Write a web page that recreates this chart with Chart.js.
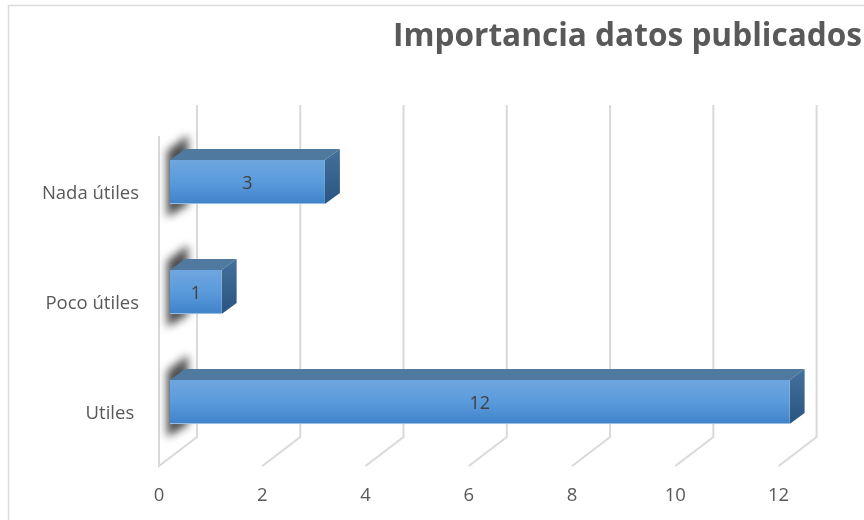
<!DOCTYPE html>
<html>
<head>
<meta charset="utf-8">
<style>html,body{margin:0;padding:0;background:#fff}canvas{display:block}</style>
<script src="https://cdn.jsdelivr.net/npm/chart.js@4"></script>
</head>
<body>
<div style="width:864px;height:520px"><canvas id="c" width="864" height="520"></canvas></div>
<script>
const categories = ['Nada útiles', 'Poco útiles', 'Utiles '];
const values = [3, 1, 12];
const chartTitle = 'Importancia datos publicados';

const barDX = 11, barDY = -9, depthX = 15, depthY = 11, wallX = 38, wallY = 29, wallTop = 105;
const barH = 44;

const threeD = {
  id: 'threeD',
  beforeDraw(chart) {
    const c = chart.ctx;
    c.save();
    c.strokeStyle = '#dcdcdc'; c.lineWidth = 1.5;
    c.beginPath(); c.moveTo(8.5, 520); c.lineTo(8.5, 5.5); c.lineTo(864, 5.5); c.stroke();
    c.restore();
  },
  beforeDatasetsDraw(chart) {
    const c = chart.ctx, xs = chart.scales.x, area = chart.chartArea;
    c.save();
    // walls
    c.strokeStyle = '#d9d9d9'; c.lineWidth = 2;
    xs.ticks.forEach((t, i) => {
      const x = xs.getPixelForTick(i);
      c.beginPath();
      c.moveTo(x + wallX, wallTop);
      c.lineTo(x + wallX, area.bottom - wallY);
      c.lineTo(x, area.bottom);
      if (i === 0) c.lineTo(x, area.top);
      c.stroke();
    });
    // shadows on left wall
    const meta = chart.getDatasetMeta(0);
    meta.data.forEach(b => {
      const { y, base } = b.getProps(['y', 'base'], true);
      const t = y + barDY - barH / 2, bt = y + barDY + barH / 2, l = base + barDX;
      c.save();
      c.filter = 'blur(4px)';
      c.fillStyle = '#4d4d4d';
      c.beginPath();
      c.moveTo(l - 3, t - 9); c.lineTo(l + 18, t - 25); c.lineTo(l + 18, bt + 1); c.lineTo(l - 3, bt + 13);
      c.closePath(); c.fill();
      c.restore();
    });
    // top and side faces
    meta.data.forEach(b => {
      const { x, y, base } = b.getProps(['x', 'y', 'base'], true);
      const t = y + barDY - barH / 2, bt = y + barDY + barH / 2, l = base + barDX, r = x + barDX;
      c.fillStyle = '#50799f';
      c.beginPath();
      c.moveTo(l, t); c.lineTo(l + depthX, t - depthY); c.lineTo(r + depthX, t - depthY); c.lineTo(r, t);
      c.closePath(); c.fill();
      const g = c.createLinearGradient(0, t - depthY, 0, bt);
      g.addColorStop(0, '#44709c'); g.addColorStop(1, '#295580');
      c.fillStyle = g;
      c.beginPath();
      c.moveTo(r, t); c.lineTo(r + depthX, t - depthY); c.lineTo(r + depthX, bt - depthY); c.lineTo(r, bt);
      c.closePath(); c.fill();
    });
    c.restore();
    c.save();
    c.translate(barDX, barDY);
  },
  afterDatasetsDraw(chart) {
    const c = chart.ctx;
    c.restore();
    c.save();
    c.fillStyle = '#404040';
    c.font = '18px "Open Sans"';
    c.textAlign = 'center'; c.textBaseline = 'middle';
    chart.getDatasetMeta(0).data.forEach((b, i) => {
      const { x, y, base } = b.getProps(['x', 'y', 'base'], true);
      c.fillText(String(values[i]), (x + base) / 2 + barDX, y + barDY + 2);
    });
    c.restore();
  }
};

new Chart(document.getElementById('c'), {
  type: 'bar',
  plugins: [threeD],
  data: {
    labels: categories,
    datasets: [{
      data: values,
      clip: false,
      barThickness: barH,
      borderWidth: { bottom: 1 },
      borderColor: '#b4cfec',
      backgroundColor(ctx) {
        const ys = ctx.chart.scales.y;
        if (!ys || ctx.dataIndex === undefined) return '#5b9bd5';
        const p = ys.getPixelForValue(ctx.dataIndex);
        if (!isFinite(p)) return '#5b9bd5';
        const g = ctx.chart.ctx.createLinearGradient(0, p - barH / 2, 0, p + barH / 2);
        g.addColorStop(0, '#6fa6de'); g.addColorStop(0.5, '#5a9bdc'); g.addColorStop(1, '#3f82c8');
        return g;
      }
    }]
  },
  options: {
    responsive: false,
    animation: false,
    devicePixelRatio: 1,
    indexAxis: 'y',
    layout: { padding: { left: 0, right: 2, top: 0, bottom: 0 } },
    plugins: {
      legend: { display: false },
      tooltip: { enabled: false },
      title: {
        display: true,
        text: chartTitle,
        align: 'end',
        color: '#595959',
        font: { family: '"Open Sans"', size: 31.6, weight: 'bold' },
        padding: { top: 18, bottom: 80 }
      }
    },
    scales: {
      x: {
        type: 'linear',
        min: 0, max: 12,
        grid: { display: false },
        border: { display: false },
        ticks: { stepSize: 2, color: '#595959', padding: 10.5, maxRotation: 0,
          font: { family: '"Open Sans"', size: 18.5 } },
        afterFit(s) { s.height = 54; }
      },
      y: {
        type: 'category',
        grid: { display: false },
        border: { display: false },
        ticks: { color: '#595959', padding: 12, labelOffset: 3,
          font: { family: '"Open Sans"', size: 18.5 } },
        afterFit(s) { s.width = 159; }
      },
      yPad: {
        type: 'linear',
        position: 'right',
        grid: { display: false },
        border: { display: false },
        ticks: { display: false },
        afterFit(s) { s.width = 83.4; }
      }
    }
  }
});
</script>
</body>
</html>
